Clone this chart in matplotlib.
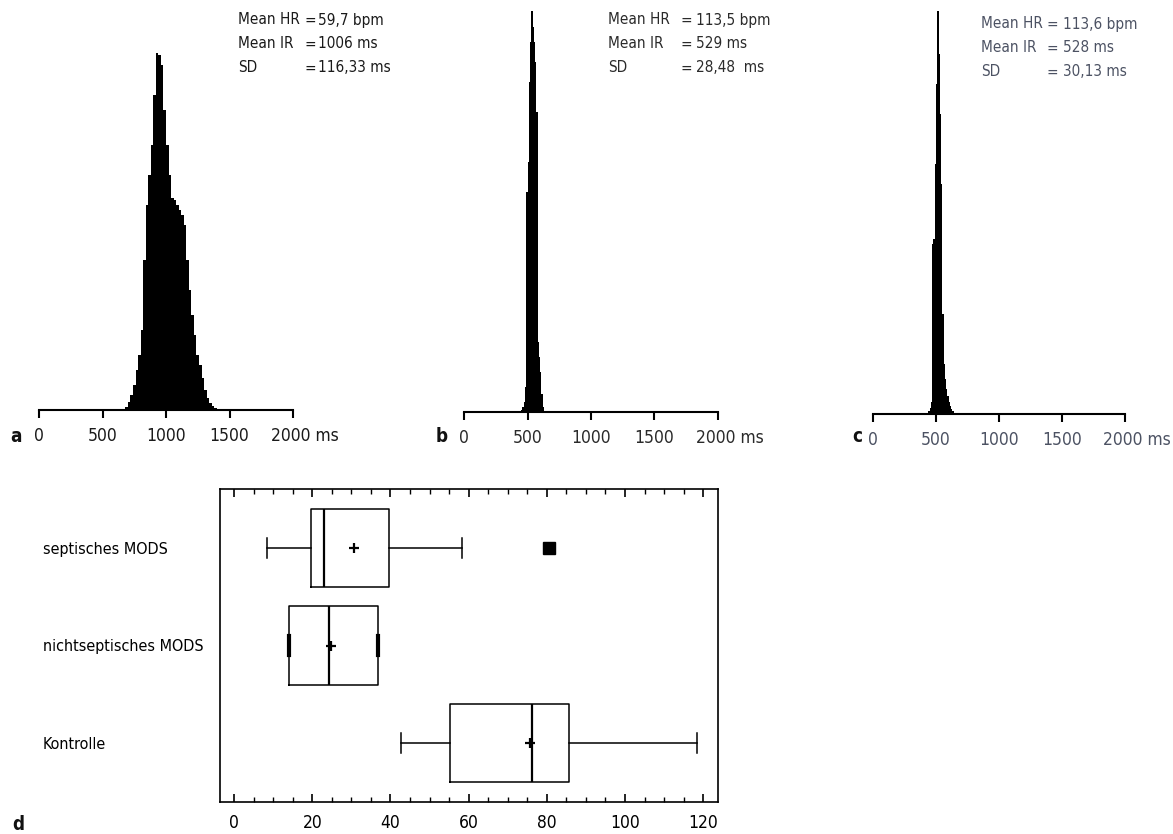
import matplotlib
matplotlib.use("Agg")
import matplotlib.pyplot as plt
import matplotlib.transforms as mtransforms
import numpy as np

# ---------------- data ----------------
# Histogram a (RR intervals, ms) - 20 ms bins
hist_a_start = 660
hist_a_width = 20
hist_a_counts = [0, 3, 8, 15, 25, 40, 55, 80, 150, 205, 235, 265, 315, 357, 355,
                 345, 300, 265, 235, 212, 210, 205, 200, 195, 185, 150, 120, 95,
                 75, 55, 45, 32, 20, 12, 7, 4, 2, 1]

# Histogram b - 10 ms bins
hist_b_start = 450
hist_b_width = 10
hist_b_counts = [2, 5, 10, 25, 220, 250, 330, 370, 401, 385, 370, 350, 300,
                 70, 55, 40, 18, 5]

# Histogram c - 10 ms bins
hist_c_start = 440
hist_c_width = 10
hist_c_counts = [3, 6, 12, 170, 175, 250, 330, 403, 360, 300, 230, 100, 50,
                 35, 25, 18, 12, 8, 5, 3]

hist_ticks = [0, 500, 1000, 1500, 2000]
hist_ticklabels = ["0", "500", "1000", "1500", "2000 ms"]

stat_names = ["Mean HR", "Mean IR", "SD"]
stats_a = ["59,7 bpm", "1006 ms", "116,33 ms"]
stats_b = ["113,5 bpm", "529 ms", "28,48  ms"]
stats_c = ["113,6 bpm", "528 ms", "30,13 ms"]

# Box plot d (bottom to top)
groups = ["Kontrolle", "nichtseptisches MODS", "septisches MODS"]
whislo = [42.6, 14.0, 8.5]
q1 = [55.2, 14.0, 19.7]
med = [76.2, 24.3, 23.1]
mean = [75.8, 24.8, 30.7]
q3 = [85.8, 36.9, 39.6]
whishi = [118.3, 36.9, 58.4]
fliers = [[], [], [80.5]]
box_ticks = [0, 20, 40, 60, 80, 100, 120]

# ---------------- layout ----------------
W, H = 1173, 834
plt.rcParams["font.family"] = ["DejaVu Sans"]
plt.rcParams["font.stretch"] = "condensed"

fig = plt.figure(figsize=(W / 100, H / 100), dpi=100)


def axes_px(left, right, top, bottom):
    return fig.add_axes([left / W, 1 - bottom / H, (right - left) / W, (bottom - top) / H])


def hist_panel(left, right, base, start, width, counts, color):
    ax = axes_px(left, right, base - 410, base)
    edges = start + width * np.arange(len(counts))
    ax.bar(edges, counts, width=width, align="edge", color="black", linewidth=0)
    ax.set_xlim(0, 2000)
    ax.set_ylim(0, 410)
    for s in ["left", "top", "right"]:
        ax.spines[s].set_visible(False)
    ax.spines["bottom"].set_linewidth(1.5)
    ax.spines["bottom"].set_bounds(0, 2000)
    ax.set_yticks([])
    ax.set_xticks(hist_ticks)
    ax.set_xticklabels(hist_ticklabels)
    ax.tick_params(axis="x", direction="out", length=6, width=1.5, pad=6,
                   labelsize=12.5, labelcolor=color)
    lab = ax.get_xticklabels()[-1]
    off = mtransforms.ScaledTranslation(12 / 100, 0, fig.dpi_scale_trans)
    lab.set_transform(lab.get_transform() + off)
    ax.patch.set_alpha(0)
    return ax


hist_panel(39, 293, 410, hist_a_start, hist_a_width, hist_a_counts, "#1a1a1a")
hist_panel(464, 718, 412, hist_b_start, hist_b_width, hist_b_counts, "#2a2a2a")
hist_panel(873, 1125, 414, hist_c_start, hist_c_width, hist_c_counts, "#4c5263")


def stat_block(xl, xe, xv, ys, values, color):
    for name, val, y in zip(stat_names, values, ys):
        fig.text(xl / W, 1 - y / H, name, ha="left", va="center", fontsize=11, color=color)
        fig.text(xe / W, 1 - y / H, "=", ha="left", va="center", fontsize=11, color=color)
        fig.text(xv / W, 1 - y / H, val, ha="left", va="center", fontsize=11, color=color)


stat_block(238, 304, 318, [20, 44, 68], stats_a, "#1a1a1a")
stat_block(608, 680, 696, [20, 44, 68], stats_b, "#2a2a2a")
stat_block(981, 1047, 1063, [24, 48, 72], stats_c, "#4c5263")

# panel letters
for letter, x, y in [("a", 10, 437), ("b", 436, 437), ("c", 852, 437), ("d", 12, 824)]:
    fig.text(x / W, 1 - y / H, letter, ha="left", va="center", fontsize=13.5,
             fontweight="bold", color="#111")

# ---------------- box plot d ----------------
axd = axes_px(220, 718, 489, 802)
bstats = []
for i in range(len(groups)):
    bstats.append(dict(label=groups[i], whislo=whislo[i], q1=q1[i], med=med[i],
                       mean=mean[i], q3=q3[i], whishi=whishi[i], fliers=fliers[i]))
positions = [1, 2, 3]
bp = axd.bxp(bstats, positions=positions, vert=False, widths=0.81, showmeans=True,
             showfliers=True, capwidths=0.2,
             boxprops=dict(color="black", linewidth=1.1),
             medianprops=dict(color="black", linewidth=1.6),
             whiskerprops=dict(color="black", linewidth=1.1),
             capprops=dict(color="black", linewidth=1.1),
             meanprops=dict(marker="+", markersize=7, markeredgewidth=1.6,
                            markeredgecolor="black", markerfacecolor="black"),
             flierprops=dict(marker="s", markersize=8, markerfacecolor="black",
                             markeredgecolor="black"))
for cap in bp["caps"][2:4]:
    cap.set_linewidth(3.0)

axd.set_xlim(-3.6, 123.8)
axd.set_ylim(0.395, 3.605)
for s in axd.spines.values():
    s.set_linewidth(1.2)
axd.set_xticks(box_ticks)
axd.set_xticklabels([str(t) for t in box_ticks])
axd.set_xticks(np.arange(0, 125, 5), minor=True)
axd.tick_params(axis="x", which="major", direction="in", length=6, width=1.2,
                top=True, bottom=True, labelsize=12.5, pad=9)
axd.tick_params(axis="x", which="minor", direction="in", length=3.5, width=1.0,
                top=True, bottom=True)
axd.set_yticks(positions)
axd.set_yticklabels(groups)
axd.tick_params(axis="y", length=0, labelsize=11.5, pad=(220 - 43) * 0.72)
for lab in axd.get_yticklabels():
    lab.set_horizontalalignment("left")

fig.savefig("out.png", dpi=100)
